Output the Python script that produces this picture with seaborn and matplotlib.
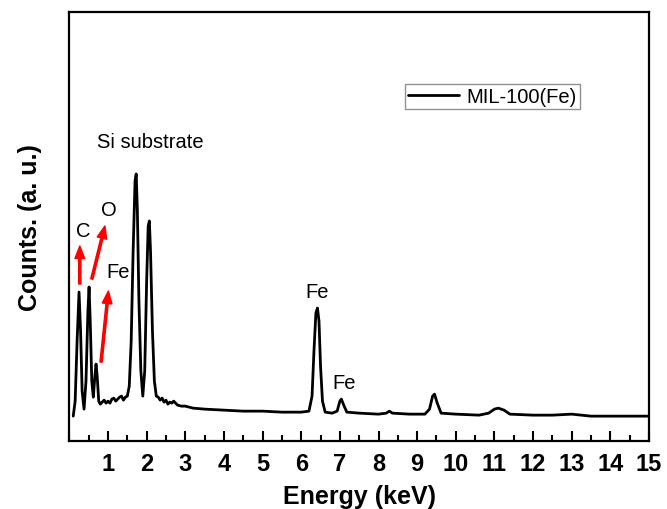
import matplotlib
matplotlib.use("Agg")
import matplotlib.pyplot as plt
import seaborn as sns
from matplotlib.ticker import MultipleLocator

# EDS spectrum (energy in keV, counts in arbitrary units)
energy = [0.10, 0.15, 0.20, 0.25, 0.29, 0.33, 0.38, 0.43, 0.48, 0.51, 0.54, 0.58,
          0.62, 0.66, 0.69, 0.72, 0.76, 0.80, 0.85, 0.90, 0.95, 1.00, 1.05, 1.10,
          1.15, 1.20, 1.25, 1.30, 1.35, 1.40, 1.45,
          1.50, 1.55, 1.60, 1.65, 1.70, 1.73, 1.76, 1.80, 1.85, 1.90, 1.95, 2.00,
          2.04, 2.07, 2.10, 2.15, 2.20, 2.25, 2.30, 2.35, 2.40, 2.45, 2.50, 2.55,
          2.60, 2.65, 2.70, 2.80, 2.90, 3.00, 3.20,
          3.50, 4.00, 4.50, 5.00, 5.50, 6.00, 6.20, 6.28, 6.33, 6.38, 6.42, 6.46,
          6.50, 6.55, 6.62, 6.80, 6.93, 7.00, 7.04, 7.10, 7.18, 7.50, 8.00, 8.20,
          8.28, 8.36, 8.80, 9.20, 9.32, 9.40, 9.45, 9.52, 9.62, 10.0, 10.6, 10.85,
          11.0, 11.1, 11.25, 11.4, 12.0, 12.5, 13.0, 13.5, 14.0, 14.5, 15.0]
counts = [25, 40, 100, 149, 110, 50, 32, 60, 130, 154, 120, 60,
          44, 65, 77, 65, 40, 37, 39, 41, 38, 40, 38, 42,
          43, 40, 42, 44, 45, 41, 44,
          45, 55, 100, 190, 260, 267, 230, 140, 70, 45, 70, 160,
          215, 220, 190, 110, 60, 45, 44, 41, 43, 39, 41, 37,
          39, 38, 40, 36, 35, 35, 33,
          32, 31, 30, 30, 29, 29, 30, 45, 90, 128, 133, 120,
          75, 40, 29, 28, 30, 40, 42, 36, 29, 28, 27, 28,
          30, 28, 27, 27, 32, 45, 47, 38, 28, 27, 26, 28,
          32, 33, 31, 27, 26, 26, 27, 25, 25, 25, 25]

# peak labels: (text, energy, counts)
labels = [("Si substrate", 0.72, 299), ("C", 0.35, 210), ("O", 1.02, 231),
          ("Fe", 1.25, 170), ("Fe", 6.41, 150), ("Fe", 7.10, 59)]
# red arrows: (tail energy, tail counts, tip energy, tip counts)
arrows = [(0.27, 157, 0.27, 195), (0.58, 162, 0.92, 215), (0.82, 79, 1.01, 150)]

sns.set_style("ticks")
plt.rcParams["font.family"] = ["Liberation Sans", "DejaVu Sans"]
plt.rcParams["text.color"] = "black"
plt.rcParams["axes.labelcolor"] = "black"
plt.rcParams["xtick.color"] = "black"

fig = plt.figure(figsize=(6.67, 5.10), dpi=100)
ax = fig.add_axes([0.104, 0.133, 0.869, 0.842])

sns.lineplot(x=energy, y=counts, ax=ax, color="black", lw=2.0, label="MIL-100(Fe)")

for txt, x, y in labels:
    ha = "left" if txt == "Si substrate" else "center"
    ax.text(x, y, txt, fontsize=14.5, ha=ha, va="center", color="black")

for x0, y0, x1, y1 in arrows:
    ax.annotate("", xy=(x1, y1), xytext=(x0, y0),
                arrowprops=dict(color="red", width=1.6, headwidth=7, headlength=9))

ax.set_xlim(0, 15)
ax.set_ylim(0, 429)
ax.set_xticks(range(1, 16))
ax.xaxis.set_minor_locator(MultipleLocator(0.5))
ax.set_yticks([])
ax.tick_params(axis="x", which="major", direction="in", length=7, width=1.5,
               labelsize=17, pad=8, colors="black")
ax.tick_params(axis="x", which="minor", direction="in", length=4, width=1.5,
               colors="black")
for lab in ax.get_xticklabels():
    lab.set_fontweight("bold")
for sp in ax.spines.values():
    sp.set_linewidth(1.6)
    sp.set_color("black")

ax.set_xlabel("Energy (keV)", fontsize=18, fontweight="bold", labelpad=6, color="black")
ax.set_ylabel("Counts. (a. u.)", fontsize=18, fontweight="bold", labelpad=20, color="black")

leg = ax.legend(loc="upper right", bbox_to_anchor=(0.881, 0.832), borderaxespad=0,
                fontsize=14.5, frameon=True, fancybox=False, handlelength=2.5,
                handletextpad=0.4, borderpad=0.15)
leg.get_frame().set_edgecolor("#777777")
leg.get_frame().set_linewidth(1.0)
for t in leg.get_texts():
    t.set_color("black")

fig.savefig("out.png", dpi=100)
